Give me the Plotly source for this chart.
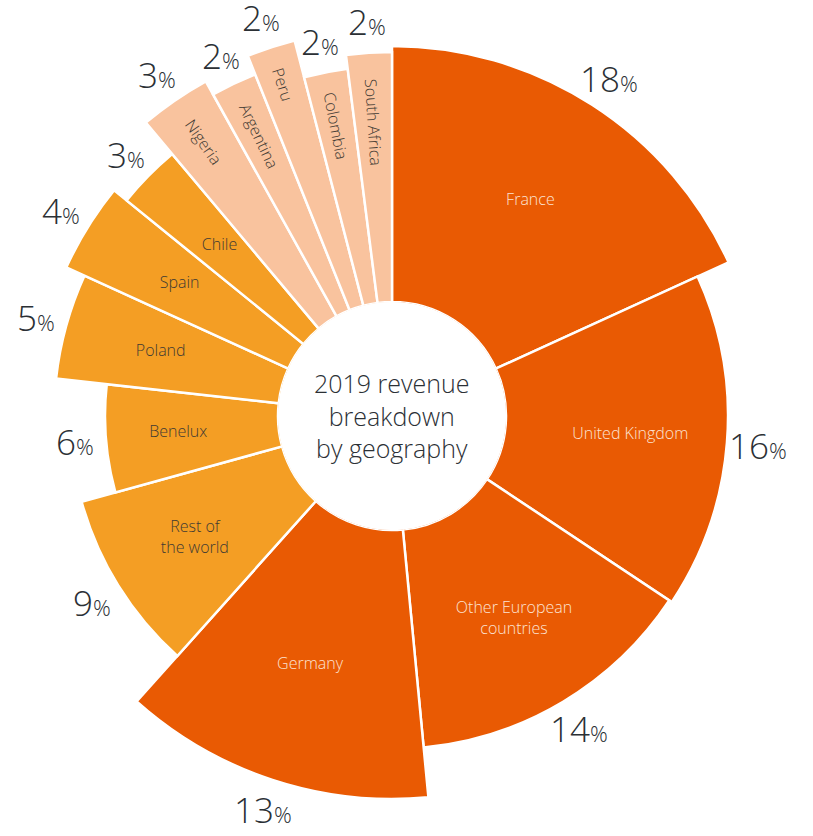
import numpy as np
import plotly.graph_objects as go

# ---- data ----
countries = ["France", "United Kingdom", "Other European<br>countries", "Germany",
             "Rest of<br>the world", "Benelux", "Poland", "Spain", "Chile",
             "Nigeria", "Argentina", "Peru", "Colombia", "South Africa"]
shares = [18, 16, 14, 13, 9, 6, 5, 4, 3, 3, 2, 2, 2, 2]
groups = ["core", "core", "core", "core",
          "mid", "mid", "mid", "mid", "mid",
          "emerging", "emerging", "emerging", "emerging", "emerging"]
# decorative wedge length (outer radius, chart units)
wedge_len = [370, 336, 333, 383, 322, 287, 338, 358, 342, 383, 368, 388, 350, 364]
center_title = "2019 revenue<br>breakdown<br>by geography"

# ---- styling ----
W, H = 813, 836
CX, CY = 392, 416          # polar centre in px (from top-left)
P = 392                    # polar radius in px
HOLE = 114                 # inner radius in chart units
fill = {"core": "#E95A03", "mid": "#F49E24", "emerging": "#F9C39E"}
inner_txt = {"core": "#FCE3D3", "mid": "#3F3A33", "emerging": "#3F3A33"}
FONT = "Open Sans"
DARK = "#2B3035"
LBL = 16

total = sum(shares)
spans = np.array(shares) / total * 360.0
starts = np.concatenate([[0], np.cumsum(spans)[:-1]])
centers = starts + spans / 2


def to_paper(r, theta_deg):
    """map polar chart coords (r units == px) to paper coords"""
    th = np.deg2rad(theta_deg)
    xp = CX + r * np.sin(th)
    yp = CY - r * np.cos(th)
    return xp / W, 1 - yp / H


fig = go.Figure()
fig.add_trace(go.Barpolar(
    r=[v - HOLE for v in wedge_len], base=HOLE, theta=centers, width=spans,
    marker=dict(color=[fill[g] for g in groups], line=dict(color="white", width=2.5)),
    hoverinfo="skip", showlegend=False))

# horizontal inner labels
hidx = [i for i, g in enumerate(groups) if g != "emerging"]
fig.add_trace(go.Scatterpolar(
    r=[(HOLE + wedge_len[i]) / 2 + 14 for i in hidx],
    theta=[centers[i] for i in hidx], mode="text",
    text=[countries[i] for i in hidx],
    textfont=dict(family=FONT, size=LBL, color=[inner_txt[groups[i]] for i in hidx], weight=300),
    cliponaxis=False, hoverinfo="skip", showlegend=False))

annotations = []
# percentage labels outside wedges
for i, s in enumerate(shares):
    x, y = to_paper(wedge_len[i] + 31, centers[i])
    annotations.append(dict(x=x, y=y, xref="paper", yref="paper",
                            xanchor="center", yanchor="middle",
                            text=f"{s}<span style='font-size:22px'>%</span>",
                            showarrow=False,
                            font=dict(family=FONT, size=35, color=DARK, weight=300)))

# rotated labels for narrow wedges
for i, g in enumerate(groups):
    if g != "emerging":
        continue
    nchar = len(countries[i])
    rr = wedge_len[i] - 24 - nchar * 7.6 / 2
    x, y = to_paper(rr, centers[i])
    annotations.append(dict(x=x, y=y, xref="paper", yref="paper",
                            xanchor="center", yanchor="middle",
                            text=countries[i], showarrow=False,
                            textangle=centers[i] - 270,
                            font=dict(family=FONT, size=LBL, color=inner_txt[g], weight=300)))

annotations.append(dict(x=CX / W, y=1 - CY / H, xref="paper", yref="paper",
                        xanchor="center", yanchor="middle",
                        text=center_title, showarrow=False,
                        font=dict(family=FONT, size=25, color=DARK, weight=300)))

fig.update_layout(
    width=W, height=H, margin=dict(l=0, r=0, t=0, b=0),
    paper_bgcolor="white", plot_bgcolor="white",
    polar=dict(
        domain=dict(x=[(CX - P) / W, (CX + P) / W],
                    y=[(H - CY - P) / H, (H - CY + P) / H]),
        hole=HOLE / P, bgcolor="white",
        radialaxis=dict(range=[HOLE, P], visible=False, showgrid=False),
        angularaxis=dict(rotation=90, direction="clockwise", visible=False,
                         showgrid=False, thetaunit="degrees"),
    ),
    annotations=annotations,
    showlegend=False,
)

fig.write_html("out.html")
